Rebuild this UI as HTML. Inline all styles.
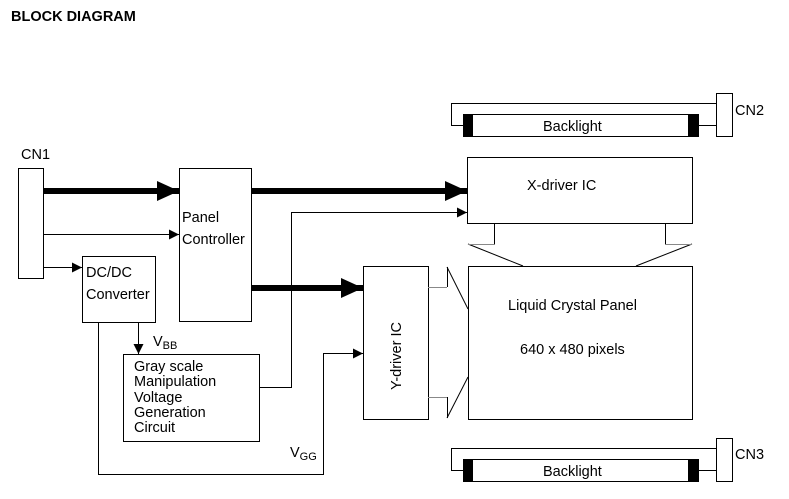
<!DOCTYPE html>
<html><head><meta charset="utf-8"><style>
html,body{margin:0;padding:0;background:#fff;}
svg{display:block;}
text{font-family:"Liberation Sans",Arial,sans-serif;fill:#000;}
</style></head><body>
<svg width="789" height="499" viewBox="0 0 789 499" xmlns="http://www.w3.org/2000/svg">
<defs>
<marker id="a" markerWidth="10" markerHeight="10" refX="10" refY="5" orient="auto" markerUnits="userSpaceOnUse"><path d="M0,0 L10,5 L0,10 z" fill="#000"/></marker>
<marker id="b" markerWidth="22" markerHeight="20" refX="22" refY="10" orient="auto" markerUnits="userSpaceOnUse"><path d="M0,0 L22,10 L0,20 z" fill="#000"/></marker>
</defs>
<text x="11" y="21" font-size="14.5" font-weight="bold">BLOCK DIAGRAM</text>
<g fill="none" stroke="#000" stroke-width="1">
<rect x="18.5" y="168.5" width="25" height="110" fill="#fff"/>
<rect x="179.5" y="168.5" width="72" height="153"/>
<rect x="82.5" y="256.5" width="73" height="66"/>
<rect x="123.5" y="354.5" width="136" height="87"/>
<rect x="363.5" y="266.5" width="65" height="153"/>
<rect x="467.5" y="157.5" width="225" height="66"/>
<rect x="468.5" y="266.5" width="224" height="153"/>
<line x1="43" y1="234.5" x2="179" y2="234.5" marker-end="url(#a)"/>
<line x1="43" y1="267.5" x2="82" y2="267.5" marker-end="url(#a)"/>
<line x1="138.5" y1="322" x2="138.5" y2="354" marker-end="url(#a)"/>
<polyline points="259,387.5 291.5,387.5 291.5,212.5 467,212.5" marker-end="url(#a)"/>
<polyline points="98.5,322 98.5,474.5 323.5,474.5 323.5,353.5 363,353.5" marker-end="url(#a)"/>
<polyline points="494.5,223 494.5,244.5"/>
<polyline points="665.5,223 665.5,244.5"/>
<line x1="468" y1="244" x2="523" y2="266"/>
<line x1="692" y1="244" x2="636" y2="266"/>
<line x1="447.5" y1="267" x2="447.5" y2="287"/>
<line x1="447.5" y1="397" x2="447.5" y2="418"/>
<line x1="447" y1="267" x2="468" y2="309"/>
<line x1="447" y1="418" x2="468" y2="377"/>
</g>
<g stroke="#888" stroke-width="1">
<line x1="468" y1="244.5" x2="494" y2="244.5"/>
<line x1="665" y1="244.5" x2="692" y2="244.5"/>
<line x1="428" y1="287.5" x2="447" y2="287.5"/>
<line x1="428" y1="397.5" x2="447" y2="397.5"/>
</g>
<g stroke="#000" stroke-width="6" fill="none">
<line x1="43" y1="191" x2="179" y2="191" marker-end="url(#b)"/>
<line x1="251" y1="191" x2="467" y2="191" marker-end="url(#b)"/>
<line x1="251" y1="288" x2="363" y2="288" marker-end="url(#b)"/>
</g>
<g fill="none" stroke="#000" stroke-width="1">
<polyline points="716,103.5 451.5,103.5 451.5,125.5 463,125.5"/>
<line x1="698" y1="125.5" x2="716" y2="125.5"/>
<rect x="463.5" y="114.5" width="235" height="22" fill="#fff"/>
<rect x="463" y="114" width="10" height="23" fill="#000" stroke="none"/>
<rect x="688" y="114" width="10" height="23" fill="#000" stroke="none"/>
<rect x="716.5" y="93.5" width="16" height="43" fill="#fff"/>
</g>
<g transform="translate(0,345)">
<polyline points="716,103.5 451.5,103.5 451.5,125.5 463,125.5" fill="none" stroke="#000"/>
<line x1="698" y1="125.5" x2="716" y2="125.5" stroke="#000"/>
<rect x="463.5" y="114.5" width="235" height="22" fill="#fff" stroke="#000"/>
<rect x="463" y="114" width="10" height="23" fill="#000"/>
<rect x="688" y="114" width="10" height="23" fill="#000"/>
<rect x="716.5" y="93.5" width="16" height="43" fill="#fff" stroke="#000"/>
</g>
<g font-size="14.5">
<text x="543" y="131">Backlight</text>
<text x="543" y="476">Backlight</text>
<text x="735" y="115">CN2</text>
<text x="735" y="459">CN3</text>
<text x="21" y="159">CN1</text>
<text x="182" y="222">Panel</text>
<text x="182" y="244">Controller</text>
<text x="86" y="277">DC/DC</text>
<text x="86" y="299">Converter</text>
<text x="134" y="371">Gray scale</text>
<text x="134" y="386">Manipulation</text>
<text x="134" y="402">Voltage</text>
<text x="134" y="417">Generation</text>
<text x="134" y="432">Circuit</text>
<text x="527" y="190">X-driver IC</text>
<text x="508" y="310">Liquid Crystal Panel</text>
<text x="520" y="354">640 x 480 pixels</text>
<text transform="translate(401,390) rotate(-90)">Y-driver IC</text>
<text x="153" y="346">V<tspan font-size="11" dy="3">BB</tspan></text>
<text x="290" y="457">V<tspan font-size="11" dy="3">GG</tspan></text>
</g>
</svg>
</body></html>
